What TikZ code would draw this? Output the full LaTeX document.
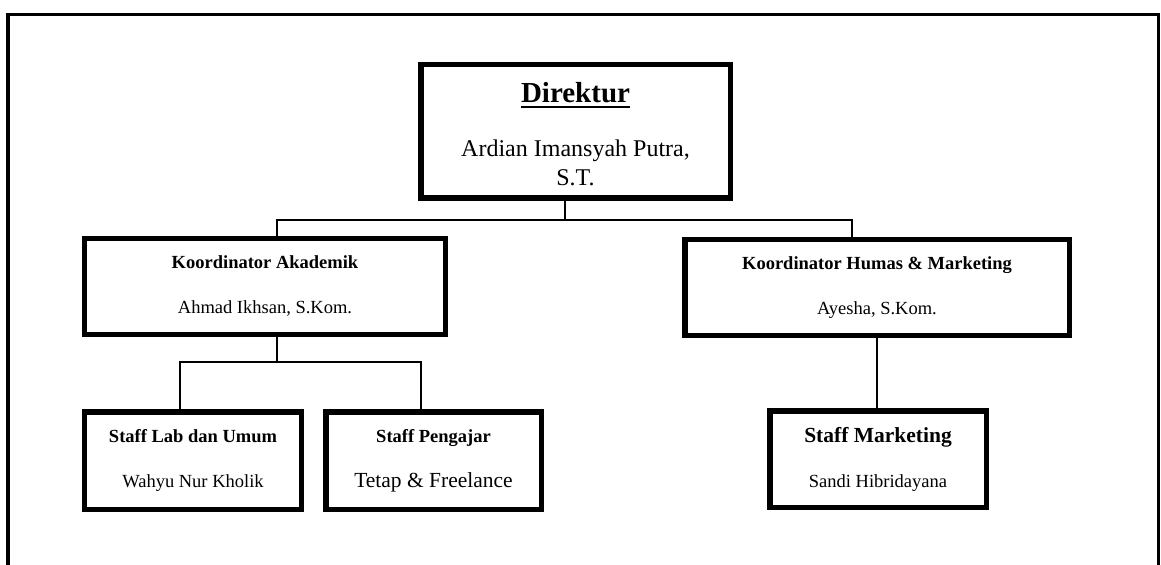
\documentclass[tikz,border=0pt]{standalone}
\usepackage{fontspec}
\setmainfont{Liberation Serif}
\newcommand\dirline[1]{\setbox0\hbox{#1}\rlap{\rule[-5.6bp]{\wd0}{2.6bp}}\box0}
\begin{document}
\begin{tikzpicture}[x=1bp,y=-1bp,
	box/.style={draw, line width=5.5bp, align=center, inner sep=0pt, font=\fontsize{18.5bp}{45bp}\selectfont},
	conn/.style={line width=2bp}]
	\def\W{1161} \def\H{565} % ukuran gambar
	\useasboundingbox (0,0) rectangle (\W,\H);
	\draw[line width=3.5bp] (8,\H)--(8,14.5)--(1158.7,14.5)--(1158.7,\H);
	\node[box, minimum width=309.5bp, minimum height=133.5bp, font=\fontsize{24bp}{29.3bp}\selectfont] (dir) at (575.5,131.5)
		{\dirline{\fontsize{29bp}{29bp}\selectfont\bfseries Direktur}\rule{0pt}{26bp}\\[24.7bp] Ardian Imansyah Putra,\\ S.T.};
	\node[box, minimum width=360.5bp, minimum height=95.5bp] (akad) at (265,286.5)
		{\textbf{Koordinator Akademik}\\ Ahmad Ikhsan, S.Kom.};
	\node[box, minimum width=384.5bp, minimum height=95.5bp] (humas) at (877,287.5)
		{\textbf{Koordinator Humas \& Marketing}\\ Ayesha, S.Kom.};
	\node[box, minimum width=216.5bp, minimum height=97.5bp] (lab) at (193,460.5)
		{\textbf{Staff Lab dan Umum}\\ Wahyu Nur Kholik};
	\node[box, minimum width=215.5bp, minimum height=97.5bp] (ajar) at (433.5,460.5)
		{\textbf{Staff Pengajar}\\ {\fontsize{21.5bp}{45bp}\selectfont Tetap \& Freelance}};
	\node[box, minimum width=216.5bp, minimum height=96.5bp] (mkt) at (878,459)
		{{\fontsize{21.5bp}{45bp}\selectfont\bfseries Staff Marketing}\\ Sandi Hibridayana};
	\draw[conn] ([xshift=-10.5bp]dir.south) -- ++(0,19) coordinate (dirbus);
	\draw[conn] ([xshift=12bp]akad.north) |- (dirbus) -| ([xshift=-25bp]humas.north);
	\draw[conn] ([xshift=12bp]akad.south) -- ++(0,24.5) coordinate (akadbus);
	\draw[conn] ([xshift=-13bp]lab.north) |- (akadbus) -| ([xshift=-12.5bp]ajar.north);
	\draw[conn] (humas.south) -- (humas.south |- mkt.north);
\end{tikzpicture}
\end{document}
